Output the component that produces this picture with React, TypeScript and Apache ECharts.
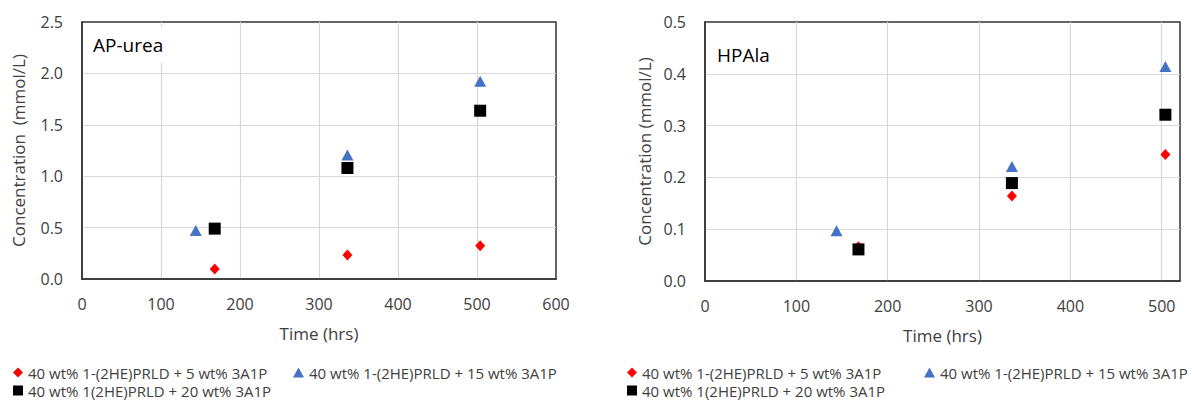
import React, { useEffect, useRef } from "react";
import * as echarts from "echarts";

const nameA = "40 wt% 1-(2HE)PRLD + 5 wt% 3A1P";
const nameB = "40 wt% 1-(2HE)PRLD + 15 wt% 3A1P";
const nameC = "40 wt% 1(2HE)PRLD + 20 wt% 3A1P";

// AP-urea panel: [time (hrs), concentration (mmol/L)]
const apUreaA = [[168, 0.097], [336, 0.233], [504, 0.324]];
const apUreaB = [[144, 0.473], [336, 1.206], [504, 1.923]];
const apUreaC = [[168, 0.49], [336, 1.08], [504, 1.637]];

// HPAla panel
const hpalaA = [[168, 0.066], [336, 0.164], [504, 0.244]];
const hpalaB = [[144, 0.097], [336, 0.221], [504, 0.414]];
const hpalaC = [[168, 0.061], [336, 0.189], [504, 0.321]];

const panelTitles = ["AP-urea", "HPAla"];
const yTitles = ["Concentration  (mmol/L)", "Concentration (mmol/L)"];
const xTitle = "Time (hrs)";

const FONT = "'Open Sans', sans-serif";
const TXT = "#404040";
const BORDER = "#333333";

export default function App() {
  const ref = useRef<HTMLDivElement>(null);
  useEffect(() => {
    const chart = echarts.init(ref.current!, null, { renderer: "svg" });
    const style: Record<string, any> = {
      A: { symbol: "diamond", symbolSize: [10, 11], itemStyle: { color: "#FF0000", opacity: 1 } },
      B: { symbol: "triangle", symbolSize: [12, 11], itemStyle: { color: "#4472C4", opacity: 1 } },
      C: { symbol: "rect", symbolSize: 12, itemStyle: { color: "#000000", opacity: 1 } },
    };
    const mk = (name: string, data: number[][], idx: number, s: any) => ({
      type: "scatter",
      name,
      data,
      xAxisIndex: idx,
      yAxisIndex: idx,
      ...s,
    });
    const axisX = (idx: number, max: number) => ({
      type: "value",
      gridIndex: idx,
      min: 0,
      max,
      interval: 100,
      name: xTitle,
      nameLocation: "middle",
      nameGap: 46,
      nameTextStyle: { fontFamily: FONT, fontSize: 17, color: TXT },
      axisLine: { show: true, lineStyle: { color: BORDER, width: 1.5 } },
      axisTick: { show: false },
      axisLabel: { fontFamily: FONT, fontSize: 16, color: TXT, margin: 17, showMaxLabel: idx === 0 },
      splitLine: { show: true, showMinLine: false, showMaxLine: false, lineStyle: { color: "#D9D9D9", width: 1.2 } },
    });
    const axisY = (idx: number, max: number, interval: number) => ({
      type: "value",
      gridIndex: idx,
      min: 0,
      max,
      interval,
      name: yTitles[idx],
      nameLocation: "middle",
      nameGap: idx === 0 ? 55 : 52,
      nameTextStyle: { fontFamily: FONT, fontSize: 17, color: TXT },
      axisLine: { show: true, lineStyle: { color: BORDER, width: 1.5 } },
      axisTick: { show: false },
      axisLabel: {
        fontFamily: FONT,
        fontSize: 16,
        color: TXT,
        margin: 19,
        formatter: (v: number) => v.toFixed(1),
      },
      splitLine: { show: true, showMinLine: false, showMaxLine: false, lineStyle: { color: "#D9D9D9", width: 1.2 } },
    });
    const iconOf = (n: string) => (n === nameA ? "diamond" : n === nameB ? "triangle" : "rect");
    const lg = (left: number, top: number, n: string) => ({
      left,
      top,
      itemWidth: n === nameB ? 11 : 10,
      itemHeight: 10,
      selectedMode: false,
      textStyle: { fontFamily: FONT, fontSize: 15, color: TXT },
      data: [{ name: n, icon: iconOf(n) }],
    });
    chart.setOption({
      animation: false,
      backgroundColor: "#fff",
      graphic: [
        {
          type: "text",
          x: 89,
          y: 45,
          z: 100,
          style: {
            text: panelTitles[0],
            font: `19px ${FONT}`,
            fill: "#000",
            verticalAlign: "middle",
            backgroundColor: "#fff",
            padding: [9, 4, 8, 4],
          },
        },
        {
          type: "text",
          x: 713,
          y: 55,
          z: 100,
          style: {
            text: panelTitles[1],
            font: `19px ${FONT}`,
            fill: "#000",
            verticalAlign: "middle",
            backgroundColor: "#fff",
            padding: [6, 4, 6, 4],
          },
        },
      ],
      grid: [
        { left: 82, top: 22, width: 474, height: 257, show: true, borderColor: BORDER, borderWidth: 1.5, backgroundColor: "transparent" },
        { left: 705, top: 22, width: 475, height: 259, show: true, borderColor: BORDER, borderWidth: 1.5, backgroundColor: "transparent" },
      ],
      xAxis: [axisX(0, 600), axisX(1, 520)],
      yAxis: [axisY(0, 2.5, 0.5), axisY(1, 0.5, 0.1)],
      legend: [
        lg(8, 360, nameA),
        lg(288, 360, nameB),
        lg(8, 378, nameC),
        lg(622, 360, nameA),
        lg(919, 360, nameB),
        lg(622, 378, nameC),
      ],
      series: [
        mk(nameA, apUreaA, 0, style.A),
        mk(nameB, apUreaB, 0, style.B),
        mk(nameC, apUreaC, 0, style.C),
        mk(nameA, hpalaA, 1, style.A),
        mk(nameB, hpalaB, 1, style.B),
        mk(nameC, hpalaC, 1, style.C),
      ],
    });
    return () => chart.dispose();
  }, []);
  return (
    <div
      ref={ref}
      style={{ position: "absolute", left: 0, top: 0, width: 1192, height: 400 }}
    />
  );
}
